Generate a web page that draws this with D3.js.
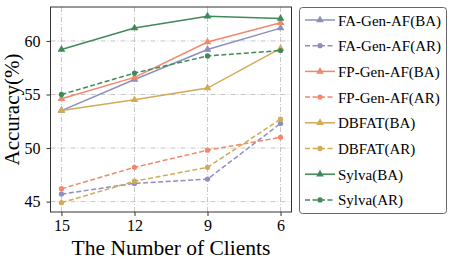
<!DOCTYPE html>
<html>
  <head>
    <meta charset="utf-8"/>
    <style>
body {
  margin: 0;
  background: #fff;
}
svg text {
  font-family: "Liberation Serif", "DejaVu Serif", serif;
  fill: #000;
}
    </style>
  </head>
  <body>
    <svg id="chart" width="457" height="263"></svg>
    <script src="https://cdnjs.cloudflare.com/ajax/libs/d3/7.8.5/d3.min.js"></script>
    <script>
const clients = ["15", "12", "9", "6"];
const yTicks = [45, 50, 55, 60];

const faBA = [53.5, 56.4, 59.2, 61.2];
const faAR = [45.7, 46.7, 47.1, 52.3];
const fpBA = [54.6, 56.6, 59.9, 61.7];
const fpAR = [46.2, 48.2, 49.8, 51.0];
const dbBA = [53.5, 54.5, 55.6, 59.3];
const dbAR = [44.9, 46.9, 48.2, 52.7];
const syBA = [59.2, 61.2, 62.3, 62.1];
const syAR = [55.0, 57.0, 58.6, 59.1];

const series = [
  { name: "FA-Gen-AF(BA)", values: faBA, color: "#8d8fbd", dash: false },
  { name: "FA-Gen-AF(AR)", values: faAR, color: "#8d8fbd", dash: true },
  { name: "FP-Gen-AF(BA)", values: fpBA, color: "#f2876b", dash: false },
  { name: "FP-Gen-AF(AR)", values: fpAR, color: "#f2876b", dash: true },
  { name: "DBFAT(BA)", values: dbBA, color: "#d2aa58", dash: false },
  { name: "DBFAT(AR)", values: dbAR, color: "#d2aa58", dash: true },
  { name: "Sylva(BA)", values: syBA, color: "#3f8a58", dash: false },
  { name: "Sylva(AR)", values: syAR, color: "#3f8a58", dash: true }
];

const pl = 50.5, pr = 291.5, pt = 7, pb = 212;
const svg = d3.select("#chart");

// matplotlib-ish 5% margins
const x = d3.scalePoint()
    .domain(clients)
    .range([pl, pr])
    .padding(0.15);
const all = series.flatMap(s => s.values);
const ext = d3.extent(all), pad = (ext[1] - ext[0]) * 0.05;
const y = d3.scaleLinear()
    .domain([ext[0] - pad, ext[1] + pad])
    .range([pb, pt]);

// grid
const grid = svg.append("g")
    .attr("stroke", "#b8b8b8")
    .attr("stroke-width", 0.8)
    .attr("stroke-dasharray", "5,2,1,2");
grid.selectAll(".gx").data(clients).join("line")
    .attr("x1", d => x(d)).attr("x2", d => x(d))
    .attr("y1", pt).attr("y2", pb);
grid.selectAll(".gy").data(yTicks).join("line")
    .attr("x1", pl).attr("x2", pr)
    .attr("y1", d => y(d)).attr("y2", d => y(d));

// axes
const xAxis = svg.append("g")
    .attr("transform", `translate(0,${pb})`)
    .call(d3.axisBottom(x).tickSize(4).tickPadding(4));
const yAxis = svg.append("g")
    .attr("transform", `translate(${pl},0)`)
    .call(d3.axisLeft(y).tickValues(yTicks).tickSize(4).tickPadding(6));
[xAxis, yAxis].forEach(g => {
  g.select(".domain").remove();
  g.selectAll("line").attr("stroke", "#333");
  g.selectAll("text").attr("font-size", 16)
    .attr("font-family", "Liberation Serif");
});

// lines
const line = d3.line()
    .x((d, i) => x(clients[i]))
    .y(d => y(d));
const tri = d3.symbol().type(d3.symbolTriangle).size(26);
const dot = d3.symbol().type(d3.symbolCircle).size(22);

series.forEach(s => {
  svg.append("path")
    .datum(s.values)
    .attr("fill", "none")
    .attr("stroke", s.color)
    .attr("stroke-width", 1.5)
    .attr("stroke-dasharray", s.dash ? "5,2.5" : null)
    .attr("d", line);
  svg.append("g").selectAll("path")
    .data(s.values)
    .join("path")
      .attr("transform", (d, i) => `translate(${x(clients[i])},${y(d)})`)
      .attr("d", s.dash ? dot : tri)
      .attr("fill", s.color);
});

// frame
svg.append("rect")
    .attr("x", pl).attr("y", pt)
    .attr("width", pr - pl).attr("height", pb - pt)
    .attr("fill", "none")
    .attr("stroke", "#333")
    .attr("stroke-width", 1);

// labels
svg.append("text")
    .attr("x", (pl + pr) / 2)
    .attr("y", 255)
    .attr("text-anchor", "middle")
    .attr("font-size", 21.5)
    .text("The Number of Clients");
svg.append("text")
    .attr("transform", `translate(19,${(pt + pb) / 2}) rotate(-90)`)
    .attr("text-anchor", "middle")
    .attr("font-size", 21)
    .text("Accuracy(%)");

// legend
const lg = svg.append("g");
lg.append("rect")
    .attr("x", 299.5).attr("y", 7.5)
    .attr("width", 147).attr("height", 206)
    .attr("rx", 3)
    .attr("fill", "#fff")
    .attr("stroke", "#666")
    .attr("stroke-width", 1);
const item = lg.selectAll(".item")
    .data(series)
    .join("g")
      .attr("transform", (d, i) => `translate(0,${20 + i * 25.7})`);
item.append("line")
    .attr("x1", 305).attr("x2", 335)
    .attr("stroke", d => d.color)
    .attr("stroke-width", 1.5)
    .attr("stroke-dasharray", d => d.dash ? "5,2.5" : null);
item.append("path")
    .attr("transform", "translate(320,0)")
    .attr("d", d => d.dash ? dot() : tri())
    .attr("fill", d => d.color);
item.append("text")
    .attr("x", 338)
    .attr("y", 5.5)
    .attr("font-size", 15)
    .text(d => d.name);
    </script>
  </body>
</html>
